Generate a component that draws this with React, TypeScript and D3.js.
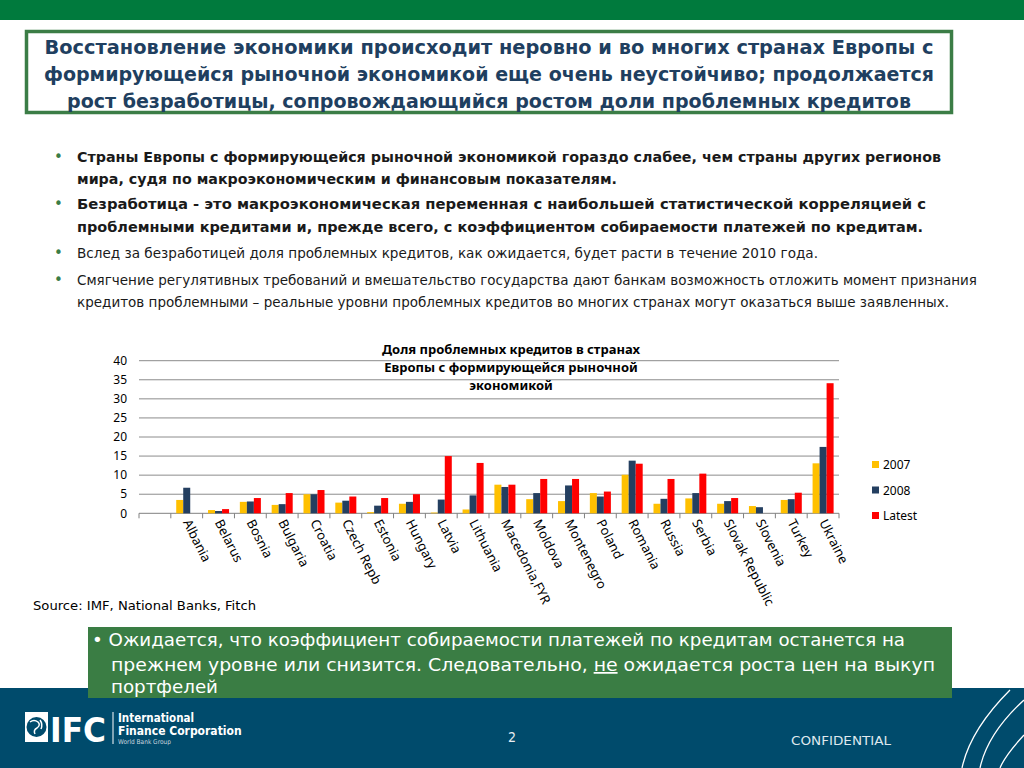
import React from "react";
import * as d3 from "d3";

const categories = ["", "Albania", "Belarus", "Bosnia", "Bulgaria", "Croatia", "Czech Repb", "Estonia", "Hungary", "Latvia", "Lithuania", "Macedonia,FYR", "Moldova", "Montenegro", "Poland", "Romania", "Russia", "Serbia", "Slovak Republic", "Slovenia", "Turkey", "Ukraine"];
const seriesNames = ["2007", "2008", "Latest"];
const values2007 = [null, 3.5, 0.85, 3.0, 2.2, 5.0, 2.8, 0.3, 2.5, 0.2, 1.0, 7.5, 3.7, 3.2, 5.3, 10.1, 2.5, 3.9, 2.5, 1.9, 3.5, 13.1];
const values2008 = [null, 6.7, 0.6, 3.1, 2.4, 5.0, 3.3, 2.0, 3.0, 3.6, 4.7, 6.9, 5.3, 7.3, 4.4, 13.8, 3.8, 5.3, 3.2, 1.6, 3.7, 17.4];
const valuesLatest = [null, null, 1.1, 4.0, 5.3, 6.1, 4.4, 4.0, 5.0, 15.0, 13.2, 7.5, 9.0, 9.0, 5.7, 13.0, 9.0, 10.4, 4.0, null, 5.4, 34.1];
const yTicks = [0, 5, 10, 15, 20, 25, 30, 35, 40];
const seriesColors = ["#FFC000", "#243F60", "#FF0000"];

const chartTitle = ["Доля проблемных кредитов в странах", "Европы с формирующейся рыночной", "экономикой"];
const titleLines = [
  "Восстановление экономики происходит неровно и во многих странах Европы с",
  "формирующейся рыночной экономикой еще очень неустойчиво; продолжается",
  "рост безработицы, сопровождающийся ростом доли проблемных кредитов",
];

const bullets = [
  { bold: true, lines: [
    { t: "Страны Европы с формирующейся рыночной экономикой гораздо слабее, чем страны других регионов", w: 864 },
    { t: "мира, судя по макроэкономическим и финансовым показателям.", w: 540 },
  ] },
  { bold: true, lines: [
    { t: "Безработица - это макроэкономическая переменная с наибольшей статистической корреляцией с", w: 849 },
    { t: "проблемными кредитами и, прежде всего, с коэффициентом собираемости платежей по кредитам.", w: 846 },
  ] },
  { bold: false, lines: [
    { t: "Вслед за безработицей доля проблемных кредитов, как ожидается, будет расти в течение 2010 года.", w: 741 },
  ] },
  { bold: false, lines: [
    { t: "Смягчение регулятивных требований и вмешательство государства дают банкам возможность отложить момент признания", w: 900 },
    { t: "кредитов проблемными – реальные уровни проблемных кредитов во многих странах могут оказаться выше заявленных.", w: 872 },
  ] },
];
const bulletYs = [[157, 179], [204, 227], [253], [280, 302]];

export default function App() {
  const x0 = 139, x1 = 839, yBase = 513.3, yTop = 360.7;
  const x = d3.scaleBand<string>().domain(categories).range([x0, x1]).paddingInner(0).paddingOuter(0);
  const xs = d3.scaleBand<string>().domain(seriesNames).range([0, x.bandwidth()]).paddingInner(0).paddingOuter(0.77);
  const y = d3.scaleLinear().domain([0, 40]).range([yBase, yTop]);
  const allSeries = [values2007, values2008, valuesLatest];
  const condensed = "'DejaVu Sans Condensed', 'DejaVu Sans', sans-serif";
  const chartFont = "'Noto Sans', 'Open Sans', sans-serif";

  return (
    <svg width={1024} height={768} style={{ position: "absolute", left: 0, top: 0, background: "#fff" }}>
      <rect x={0} y={0} width={1024} height={768} fill="#fff" />
      {/* top green bar */}
      <rect x={0} y={0} width={1024} height={20} fill="#007A3D" />
      {/* title box */}
      <rect x={26.5} y={31.5} width={925} height={81} fill="#fff" stroke="#3B7D46" strokeWidth={3.5} />
      {titleLines.map((t, i) => (
        <text key={i} x={489} y={54 + i * 27} textAnchor="middle" fontFamily={condensed} fontWeight="bold" fontSize={20} fill="#1F3F60"
          textLength={[889, 890, 844][i]} lengthAdjust="spacingAndGlyphs">{t}</text>
      ))}
      {/* bullets */}
      {bullets.map((b, i) => (
        <g key={i}>
          <text x={54} y={bulletYs[i][0] + 5} fontFamily="'DejaVu Sans', sans-serif" fontSize={15} fill="#3B7D46">•</text>
          {b.lines.map((l, j) => (
            <text key={j} x={77} y={bulletYs[i][j] + 5} fontFamily="'DejaVu Sans', sans-serif" fontSize={13.5}
              fontWeight={b.bold ? "bold" : "normal"} fill="#1a1a1a" textLength={l.w} lengthAdjust="spacingAndGlyphs">{l.t}</text>
          ))}
        </g>
      ))}

      {/* chart gridlines */}
      {yTicks.map((t) => (
        <g key={t}>
          <line x1={x0} x2={x1} y1={y(t)} y2={y(t)} stroke={t === 0 ? "#808080" : "#8C8C8C"} strokeWidth={1} />
          <text x={127} y={y(t)} dy="0.35em" textAnchor="end" fontFamily={chartFont} fontSize={12} fill="#000">{t}</text>
        </g>
      ))}
      {/* category ticks */}
      {categories.map((c, i) => (
        <line key={"tk" + i} x1={(x(c) as number)} x2={(x(c) as number)} y1={yBase} y2={yBase + 5} stroke="#808080" />
      ))}
      <line x1={x1} x2={x1} y1={yBase} y2={yBase + 5} stroke="#808080" />
      {/* bars */}
      {allSeries.map((vals, s) => (
        <g key={s}>
          {categories.map((c, i) => {
            const v = vals[i];
            if (v == null) return null;
            return (
              <rect key={i} x={(x(c) as number) + (xs(seriesNames[s]) as number)} y={y(v)} width={xs.bandwidth()} height={yBase - y(v)} fill={seriesColors[s]} />
            );
          })}
        </g>
      ))}
      {/* category labels */}
      {categories.map((c, i) => c ? (
        <text key={"lb" + i} transform={`translate(${(x(c) as number) + x.bandwidth() / 2},${yBase + 7}) rotate(63)`}
          dy="0.35em" fontFamily={chartFont} fontSize={13} fill="#000">{c}</text>
      ) : null)}
      {/* chart title */}
      {chartTitle.map((t, i) => (
        <text key={i} x={511} y={354 + i * 18} textAnchor="middle" fontFamily={chartFont} fontWeight="bold" fontSize={13} fill="#000">{t}</text>
      ))}
      {/* legend */}
      {seriesNames.map((s, i) => (
        <g key={s}>
          <rect x={872} y={461 + i * 25.5} width={7} height={7} fill={seriesColors[i]} />
          <text x={883} y={465 + i * 25.5} dy="0.35em" fontFamily={chartFont} fontSize={12} fill="#000">{s}</text>
        </g>
      ))}
      {/* source */}
      <text x={33} y={610} fontFamily={condensed} fontSize={12} fill="#000" textLength={223} lengthAdjust="spacingAndGlyphs">Source:  IMF, National Banks, Fitch</text>

      {/* footer */}
      <rect x={0} y={688} width={1024} height={80} fill="#004B6C" />
      <g fill="none" stroke="#fff" strokeWidth={1.3}>
        <path d="M1010,690 C985,715 968,740 962,768" />
        <path d="M1024,700 C1000,722 985,745 980,768" />
        <path d="M1024,735 C1012,748 1004,758 1000,768" />
      </g>
      {/* bottom green box */}
      <rect x={88} y={627} width={864} height={71} fill="#3A7D44" />
      <text x={92} y={646} fontFamily={condensed} fontSize={17.5} fill="#fff" textLength={813} lengthAdjust="spacingAndGlyphs">• Ожидается, что коэффициент собираемости платежей по кредитам останется на</text>
      <text x={111} y={671} fontFamily={condensed} fontSize={17.5} fill="#fff" textLength={824} lengthAdjust="spacingAndGlyphs">прежнем уровне или снизится. Следовательно, <tspan style={{ textDecoration: "underline" }}>не</tspan> ожидается роста цен на выкуп</text>
      <text x={111} y={693} fontFamily={condensed} fontSize={17.5} fill="#fff" textLength={107} lengthAdjust="spacingAndGlyphs">портфелей</text>

      {/* IFC logo */}
      <g>
        <rect x={25} y={712} width={23} height={30} fill="#fff" />
        <circle cx={36.5} cy={727} r={10} fill="#004B6C" />
        <path d="M30,722 q4,-3 8,0 q3,3 -1,6 q-4,2 -2,6 M40,720 q3,4 1,9" stroke="#fff" strokeWidth={1.5} fill="none" />
        <text x={50} y={742} fontFamily="'DejaVu Sans', sans-serif" fontWeight="bold" fontSize={33} fill="#fff" textLength={56} lengthAdjust="spacingAndGlyphs">IFC</text>
        <line x1={113} x2={113} y1={712} y2={744} stroke="#fff" strokeWidth={1} />
        <text x={118} y={722} fontFamily={condensed} fontWeight="bold" fontSize={11.5} fill="#fff">International</text>
        <text x={118} y={735} fontFamily={condensed} fontWeight="bold" fontSize={12} fill="#fff">Finance Corporation</text>
        <text x={118} y={744} fontFamily={condensed} fontSize={6.5} fill="#c8d4de">World Bank Group</text>
      </g>
      <text x={512} y={742} textAnchor="middle" fontFamily={condensed} fontSize={14} fill="#e8eef3">2</text>
      <text x={791} y={745} fontFamily={condensed} fontSize={13} fill="#dfe8ee" textLength={100} lengthAdjust="spacingAndGlyphs">CONFIDENTIAL</text>
    </svg>
  );
}
